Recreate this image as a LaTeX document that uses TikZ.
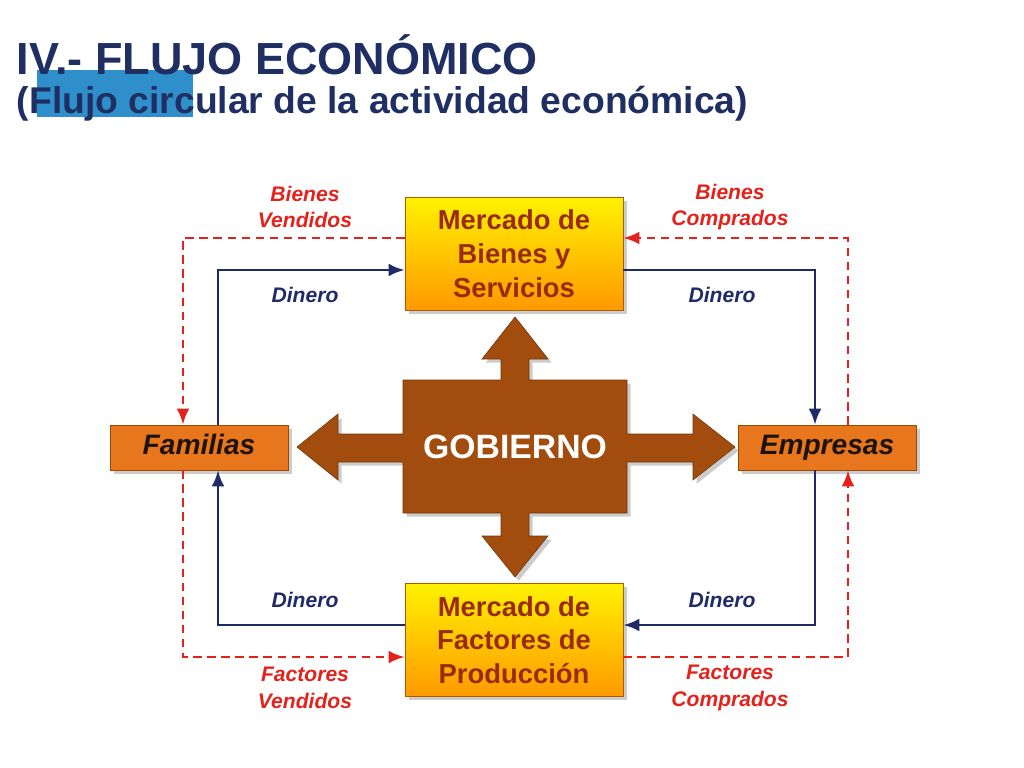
\documentclass[tikz,border=0pt]{standalone}
\usepackage{fontspec}
\setmainfont{Liberation Sans}
\usetikzlibrary{calc,positioning,arrows.meta,shadows}
\definecolor{navy}{HTML}{1F2A66}
\definecolor{flowred}{HTML}{E3231B}
\definecolor{govbrown}{HTML}{A24D0E}
\definecolor{boxtext}{HTML}{9A2A12}
\definecolor{famorange}{HTML}{E8761C}
\definecolor{titleblue}{HTML}{1F2F63}
\definecolor{capblue}{HTML}{2E8FCB}
\tikzset{money/.style={navy,line width=2pt,-{Latex[length=4mm,width=3.2mm]}},
goods/.style={flowred,line width=2pt,dashed,dash pattern=on 6pt off 4pt,-{Latex[length=4mm,width=3.2mm]}}}

\begin{document}
\begin{tikzpicture}[x=0.025cm,y=-0.025cm,font=\bfseries]

\tikzset{marketbox/.style={draw=orange!70!black,top color=yellow!90!orange,bottom color=orange!80!yellow,minimum width=218*0.025cm,minimum height=113*0.025cm,align=center,text=boxtext,font=\fontsize{19.5}{24}\selectfont\bfseries,drop shadow={opacity=.4}},
agentbox/.style={draw=orange!60!black,fill=famorange,minimum width=178*0.025cm,minimum height=45*0.025cm,text height=14pt,text depth=4pt,text=black!85!brown,font=\fontsize{20}{22}\selectfont\bfseries\itshape,drop shadow={opacity=.4}},
flowlabel/.style={align=center,font=\fontsize{15}{19}\selectfont\bfseries\itshape}}

\useasboundingbox (0,0) rectangle (1024,768);

% Title
\fill[capblue] (37,70) rectangle (193,117);
\node[anchor=west,text=titleblue,font=\fontsize{32}{36}\selectfont\bfseries] (title) at (12,55) {IV.- FLUJO ECONÓMICO};
\node[anchor=west,text=titleblue,font=\fontsize{26.5}{30}\selectfont\bfseries] (subtitle) at (12,104) {(Flujo circular de la actividad económica)};

% Gobierno with arrows
\filldraw[govbrown,draw=govbrown!70!black,drop shadow={opacity=.4}] (403,380) -- (501,380) -- (501,359) -- (482,359) -- (515,317) -- (548,359) -- (529,359) -- (529,380)
  -- (627,380) -- (627,434) -- (693,434) -- (693,414) -- (735,447) -- (693,480) -- (693,462) -- (627,462)
  -- (627,513) -- (529,513) -- (529,536) -- (548,536) -- (515,577) -- (482,536) -- (501,536) -- (501,513)
  -- (403,513) -- (403,462) -- (338,462) -- (338,480) -- (297,447) -- (338,414) -- (338,434) -- (403,434) -- cycle;
\node[text=white,font=\fontsize{24}{28}\selectfont\bfseries] (gob) at (515,447) {GOBIERNO};

% Markets and agents
\node[marketbox] (mbs) at (514,253.5) {Mercado de\\Bienes y\\Servicios};
\node[marketbox] (mfp) at (514,640) {Mercado de\\Factores de\\Producción};
\node[agentbox] (fam) at (199,447.5) {Familias};
\node[agentbox] (emp) at (827,447.5) {Empresas};

% Money flows
\draw[money] ($(fam.north)+(19,0)$) |- ($(mbs.west)+(0,16.5)$);
\draw[money] ($(mbs.east)+(0,16.5)$) -| ($(emp.north)+(-12,0)$);
\draw[money] ($(emp.south)+(-12,0)$) |- ($(mfp.east)+(0,-15)$);
\draw[money] ($(mfp.west)+(0,-15)$) -| ($(fam.south)+(19,0)$);

% Real flows
\draw[goods] ($(mbs.west)+(0,-15.5)$) -| ($(fam.north)+(-16,0)$);
\draw[goods] ($(emp.north)+(21,0)$) |- ($(mbs.east)+(0,-15.5)$);
\draw[goods] ($(fam.south)+(-16,0)$) |- ($(mfp.west)+(0,17)$);
\draw[goods] ($(mfp.east)+(0,17)$) -| ($(emp.south)+(21,0)$);

% Labels
\node[flowlabel,text=flowred] (bv) at (305,207) {Bienes\\Vendidos};
\node[flowlabel,text=flowred] (bc) at (730,207) {Bienes\\Comprados};
\node[flowlabel,text=flowred] (fv) at (305,688) {Factores\\Vendidos};
\node[flowlabel,text=flowred] (fc) at (730,688) {Factores\\Comprados};
\node[flowlabel,text=navy] (d1) at (305,295) {Dinero};
\node[flowlabel,text=navy] (d2) at (722,295) {Dinero};
\node[flowlabel,text=navy] (d3) at (305,600) {Dinero};
\node[flowlabel,text=navy] (d4) at (722,600) {Dinero};

\end{tikzpicture}
\end{document}
